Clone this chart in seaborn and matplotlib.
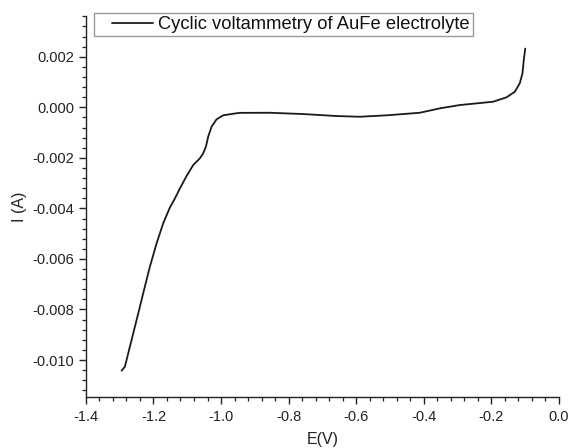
import matplotlib
matplotlib.use("Agg")
import matplotlib.pyplot as plt
import seaborn as sns
import pandas as pd
from matplotlib.ticker import MultipleLocator, FormatStrFormatter
from matplotlib.lines import Line2D
from matplotlib.legend_handler import HandlerLine2D

E = [-1.2943, -1.2846, -1.2698, -1.2499, -1.2304, -1.2106, -1.1907, -1.1712,
     -1.1514, -1.1366, -1.1218, -1.1020, -1.0824, -1.0626, -1.0528, -1.0448,
     -1.0380, -1.0280, -1.0132, -0.9936, -0.9640, -0.9442, -0.8554, -0.7568,
     -0.6580, -0.5890, -0.5100, -0.4114, -0.3522, -0.2930, -0.2338, -0.1945,
     -0.1548, -0.1302, -0.1155, -0.1075, -0.1036, -0.0992]
I = [-0.010420, -0.010262, -0.009471, -0.008414, -0.007358, -0.006306, -0.005380, -0.004589,
     -0.003964, -0.003608, -0.003212, -0.002718, -0.002283, -0.002018, -0.001820, -0.001559,
     -0.001163, -0.000767, -0.000475, -0.000316, -0.000253, -0.000218, -0.000214, -0.000265,
     -0.000344, -0.000372, -0.000316, -0.000214, -0.000040, 0.000091, 0.000170, 0.000222,
     0.000396, 0.000617, 0.000949, 0.001345, 0.001871, 0.002326]
series_label = "Cyclic voltammetry of AuFe electrolyte"
x_label = "E(V)"
y_label = "I (A)"

sns.set_style("ticks")
plt.rcParams['font.family'] = ['Liberation Sans', 'DejaVu Sans']
plt.rcParams['axes.unicode_minus'] = False

df = pd.DataFrame({"E": E, "I": I})

fig = plt.figure(figsize=(5.69, 4.48), dpi=100)
ax = fig.add_axes([0.151, 0.114, 0.831, 0.850])
sns.lineplot(data=df, x="E", y="I", sort=False, color="#1a1a1a", linewidth=1.3,
             ax=ax, label=series_label, estimator=None)
for ln in ax.get_lines():
    ln.set_solid_joinstyle('round')
    ln.set_solid_capstyle('round')

ax.set_xlim(-1.4, 0.0)
ax.set_ylim(-0.01146, 0.00361)
ax.xaxis.set_major_locator(MultipleLocator(0.2))
ax.xaxis.set_minor_locator(MultipleLocator(0.04))
ax.yaxis.set_major_locator(MultipleLocator(0.002))
ax.yaxis.set_minor_locator(MultipleLocator(0.0004))
ax.xaxis.set_major_formatter(FormatStrFormatter('%.1f'))
ax.yaxis.set_major_formatter(FormatStrFormatter('%.3f'))
ax.tick_params(which='major', direction='out', length=5, width=1, labelsize=10.5,
               color='#222222', labelcolor='#222222')
ax.tick_params(axis='x', which='major', pad=4.5)
ax.tick_params(which='minor', direction='out', length=3, width=0.9, color='#222222')
for s in ['top', 'right']:
    ax.spines[s].set_visible(False)
for s in ['left', 'bottom']:
    ax.spines[s].set_linewidth(1.0)
    ax.spines[s].set_color('#222222')

ax.set_xlabel(x_label, fontsize=11.5, color='#222222', labelpad=6)
ax.set_ylabel(y_label, fontsize=11.5, color='#222222', labelpad=4)

leg = ax.legend(loc='upper left', bbox_to_anchor=(0.017, 1.008), borderaxespad=0,
                fontsize=13.2, frameon=True, fancybox=False, handlelength=3.06,
                handletextpad=0.27, borderpad=0.17,
                handler_map={Line2D: HandlerLine2D(xpad=0.82)})
leg.get_frame().set_edgecolor('#999999')
leg.get_frame().set_linewidth(1.0)
leg.get_frame().set_alpha(1)
for t in leg.get_texts():
    t.set_color('#111111')

fig.savefig("out.png", dpi=100)
